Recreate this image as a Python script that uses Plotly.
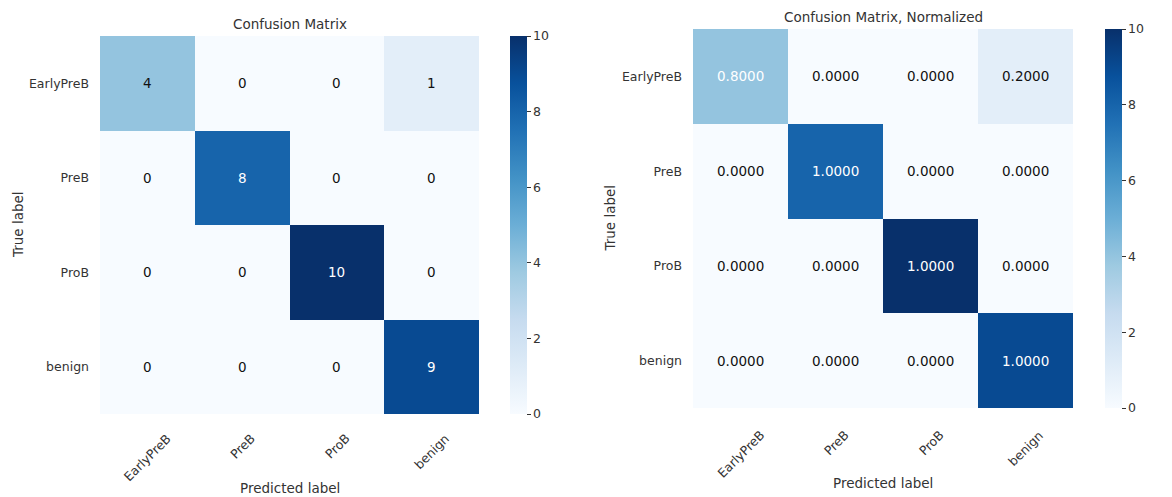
import plotly.graph_objects as go

# Class names and confusion-matrix counts (rows = true, cols = predicted)
classes = ["EarlyPreB", "PreB", "ProB", "benign"]
counts = [
    [4, 0, 0, 1],
    [0, 8, 0, 0],
    [0, 0, 10, 0],
    [0, 0, 0, 9],
]
# Row-normalized values shown on the second panel
normalized = [
    [0.8, 0.0, 0.0, 0.2],
    [0.0, 1.0, 0.0, 0.0],
    [0.0, 0.0, 1.0, 0.0],
    [0.0, 0.0, 0.0, 1.0],
]
colorbar_ticks = [0, 2, 4, 6, 8, 10]

W, H = 1172, 497
FONT = "DejaVu Sans"
GREY = "#333333"


def px_x(v):
    return v / W


def px_y(v):
    return 1 - v / H


# panel boxes in pixels: (left, right, top, bottom)
panels = [
    dict(box=(100, 479, 36, 414), cb_x=510, title="Confusion Matrix", title_y=24,
         ylab_x=18, xlab_y=488, xtick_gap=14,
         values=counts, fmt="{:d}", thresh=max(map(max, counts)) / 2),
    dict(box=(693, 1073, 29, 408), cb_x=1105, title="Confusion Matrix, Normalized", title_y=17,
         ylab_x=609, xlab_y=483, xtick_gap=17,
         values=normalized, fmt="{:.4f}", thresh=max(map(max, normalized)) / 2),
]

fig = go.Figure()
annotations = []

for k, p in enumerate(panels, start=1):
    l, r, t, b = p["box"]
    xa = "x" if k == 1 else f"x{k}"
    ya = "y" if k == 1 else f"y{k}"
    fig.add_trace(go.Heatmap(
        z=counts, x=classes, y=classes,
        xaxis=xa, yaxis=ya,
        colorscale="Blues", zmin=0, zmax=10,
        hoverinfo="skip",
        colorbar=dict(
            x=px_x(p["cb_x"]), xanchor="left", xpad=0, ypad=0,
            y=px_y((t + b) / 2), yanchor="middle",
            len=(b - t) / H, lenmode="fraction",
            thickness=17, outlinewidth=0,
            tickvals=colorbar_ticks, ticks="outside", ticklen=4,
            tickcolor=GREY, tickwidth=1,
            tickfont=dict(family=FONT, size=12.5, color=GREY),
        ),
    ))
    axsuffix = "" if k == 1 else str(k)
    fig.update_layout(**{
        f"xaxis{axsuffix}": dict(
            domain=[px_x(l), px_x(r)], anchor=ya,
            showgrid=False, zeroline=False, showline=False, ticks="",
            showticklabels=False,
        ),
        f"yaxis{axsuffix}": dict(
            domain=[px_y(b), px_y(t)], anchor=xa, autorange="reversed",
            showgrid=False, zeroline=False, showline=False, ticks="",
            ticklabelstandoff=10,
            tickfont=dict(family=FONT, size=12.5, color=GREY),
        ),
    })
    # rotated column labels, centred under each column
    for name in classes:
        annotations.append(dict(
            x=name, xref=xa, y=px_y(b + p["xtick_gap"]), yref="paper",
            text=name, showarrow=False, textangle=-45,
            xanchor="center", yanchor="top",
            font=dict(family=FONT, size=12.5, color=GREY),
        ))
    # cell value labels
    for i, row in enumerate(p["values"]):
        for j, v in enumerate(row):
            annotations.append(dict(
                x=classes[j], y=classes[i], xref=xa, yref=ya,
                text=p["fmt"].format(v), showarrow=False,
                font=dict(family=FONT, size=13.5,
                          color="white" if v > p["thresh"] else "#111111"),
            ))
    # panel title and axis labels
    annotations.append(dict(
        x=px_x((l + r) / 2), y=px_y(p["title_y"]), xref="paper", yref="paper",
        text=p["title"], showarrow=False, xanchor="center", yanchor="middle",
        font=dict(family=FONT, size=13.5, color=GREY),
    ))
    annotations.append(dict(
        x=px_x((l + r) / 2), y=px_y(p["xlab_y"]), xref="paper", yref="paper",
        text="Predicted label", showarrow=False, xanchor="center", yanchor="middle",
        font=dict(family=FONT, size=13.5, color=GREY),
    ))
    annotations.append(dict(
        x=px_x(p["ylab_x"]), y=px_y((t + b) / 2), xref="paper", yref="paper",
        text="True label", showarrow=False, textangle=-90,
        xanchor="center", yanchor="middle",
        font=dict(family=FONT, size=13.5, color=GREY),
    ))

fig.update_layout(
    width=W, height=H,
    margin=dict(l=0, r=0, t=0, b=0),
    paper_bgcolor="white", plot_bgcolor="white",
    annotations=annotations,
    showlegend=False,
)

fig.write_html("out.html")
